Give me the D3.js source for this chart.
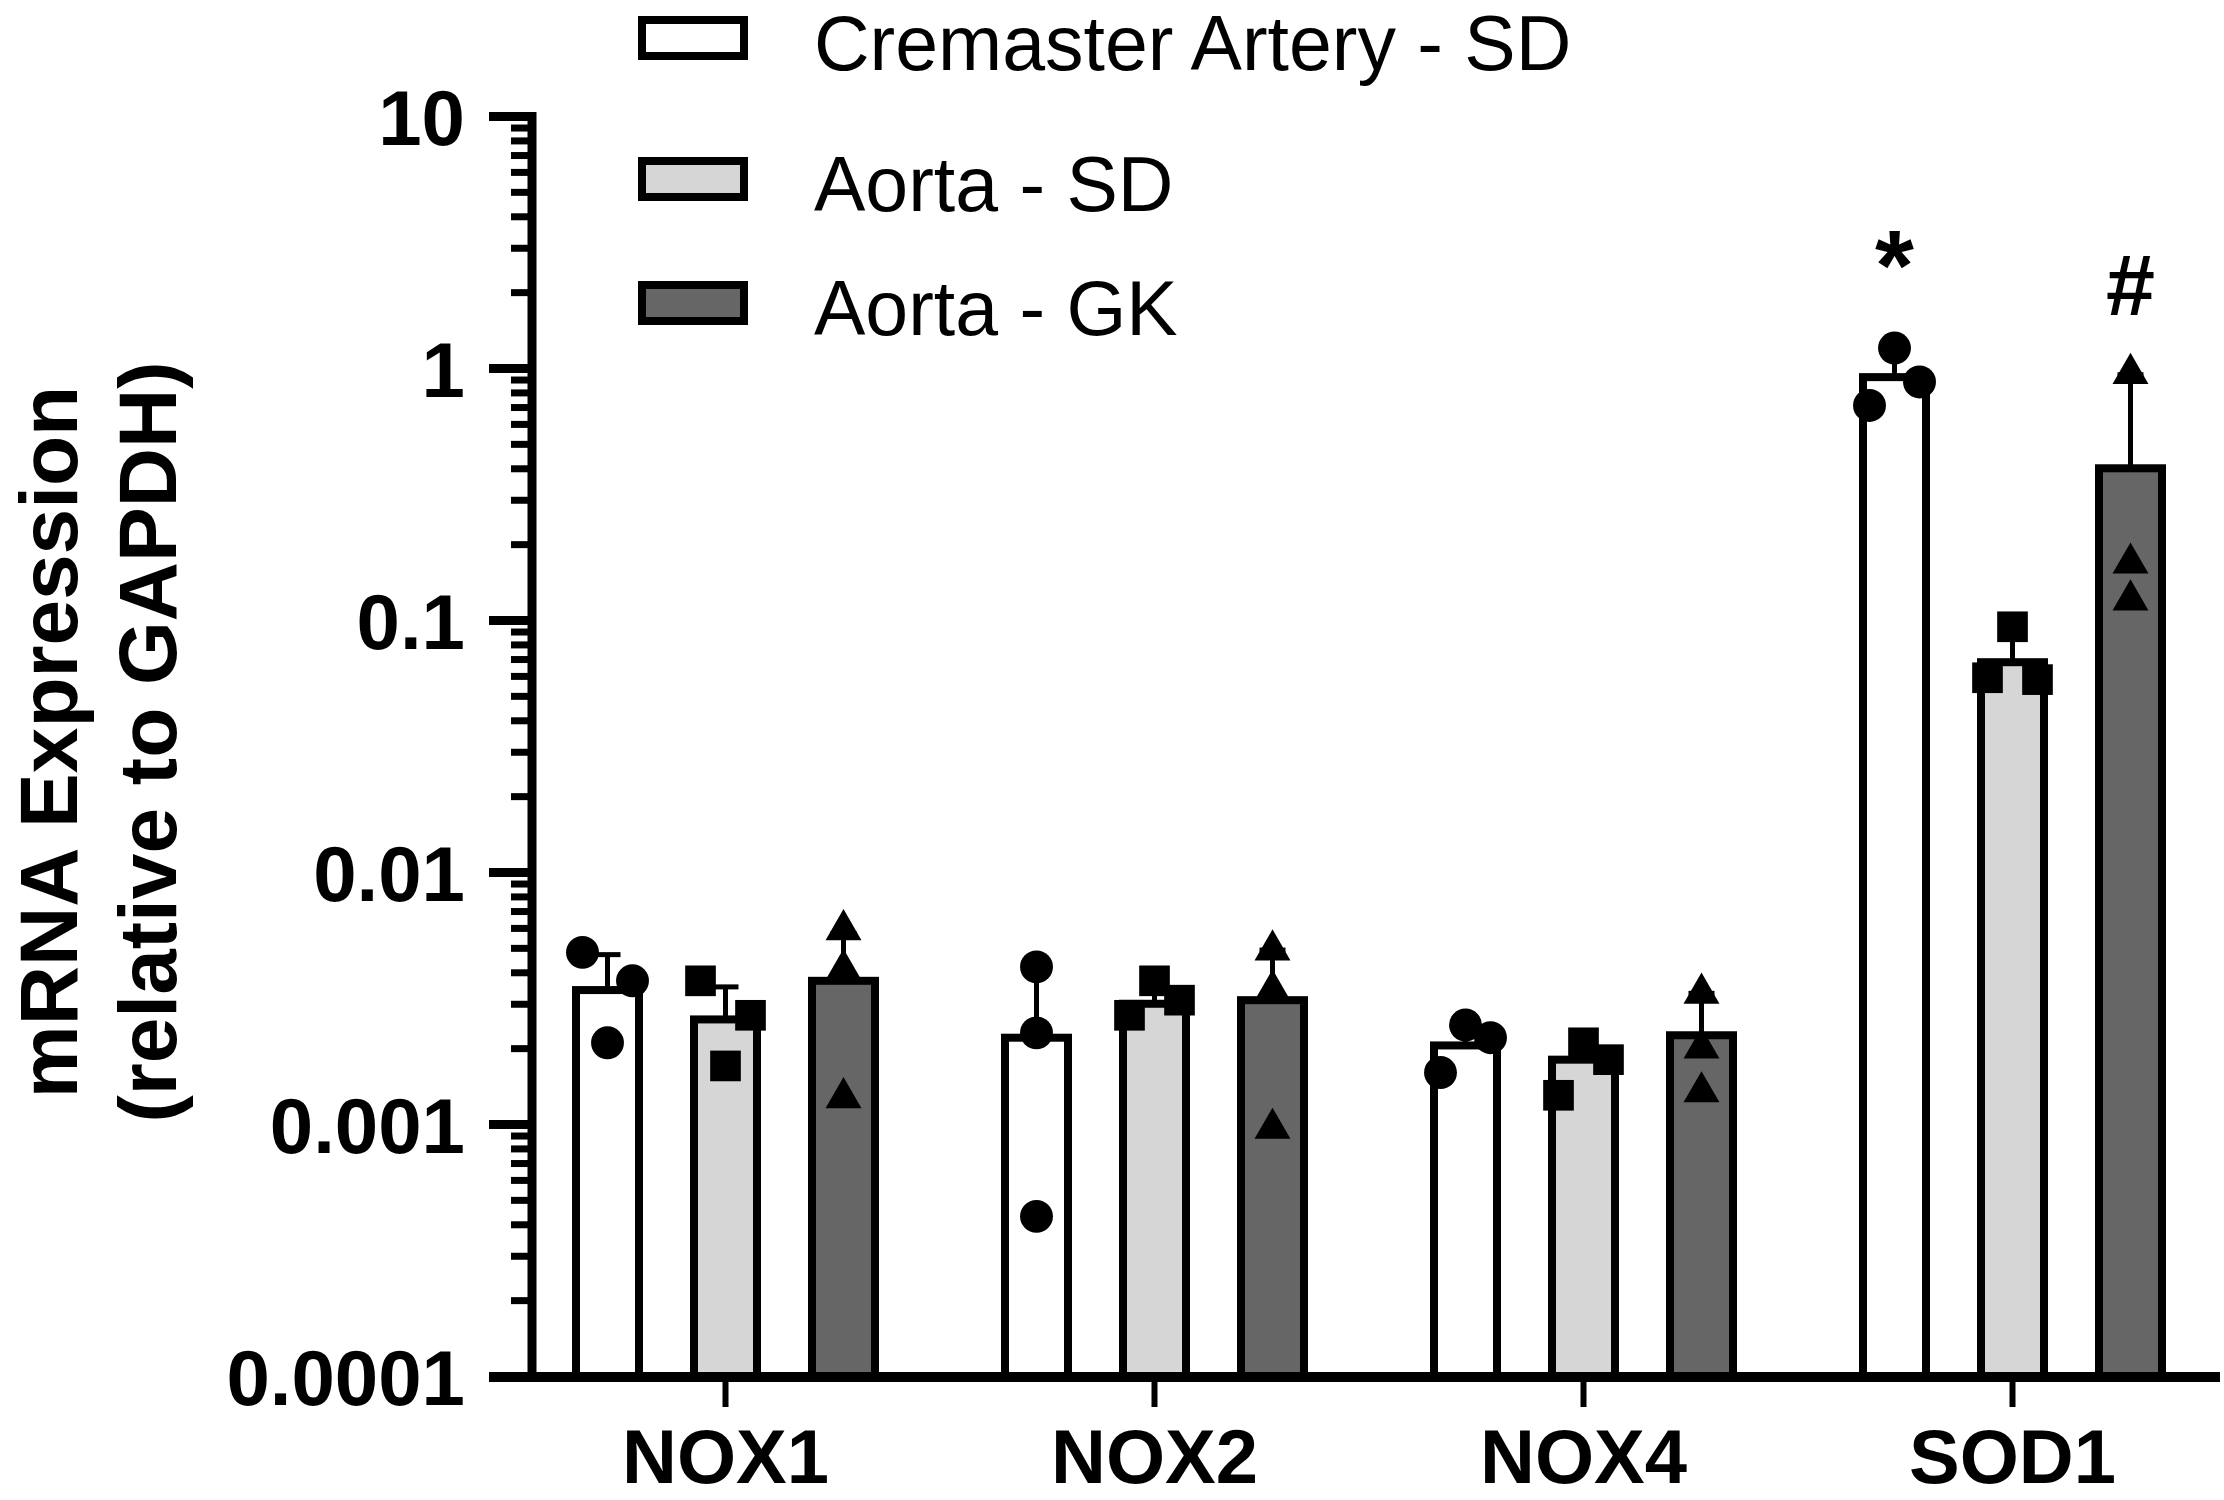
<!DOCTYPE html>
<html>
<head>
<meta charset="utf-8">
<script src="https://cdn.jsdelivr.net/npm/d3@7"></script>
<style>
  body { margin: 0; background: #fff; }
  svg { display: block; }
  text { font-family: "Liberation Sans", Arial, sans-serif; fill: #000; }
</style>
</head>
<body>
<svg id="chart" width="2224" height="1500"></svg>
<script>

// categories and groups
var genes = ['NOX1', 'NOX2', 'NOX4', 'SOD1'];
var groups = ['Cremaster Artery - SD', 'Aorta - SD', 'Aorta - GK'];

// bar heights (mean)
var meanCremSD  = [0.0034, 0.0022, 0.00205, 0.92];
var meanAortaSD = [0.0026, 0.0030, 0.0018, 0.068];
var meanAortaGK = [0.0037, 0.0031, 0.00225, 0.40];

// top of the (upper only) SD error bars
var errTopCremSD  = [0.0047, 0.0041, 0.0024, 1.18];
var errTopAortaSD = [0.0035, 0.0036, 0.0021, 0.085];
var errTopAortaGK = [0.0057, 0.0049, 0.0033, 0.94];

// individual animals (n = 3 per bar)
var ptsCremSD  = [[0.0048, 0.0037, 0.0021], [0.0042, 0.0023, 0.00043], [0.00247, 0.0022, 0.0016], [1.2, 0.88, 0.71]];
var ptsAortaSD = [[0.0037, 0.0027, 0.0017], [0.0037, 0.0031, 0.0027], [0.0021, 0.0018, 0.0013], [0.094, 0.059, 0.058]];
var ptsAortaGK = [[0.0059, 0.0041, 0.00127], [0.0049, 0.0034, 0.00096], [0.0033, 0.0020, 0.00134], [0.95, 0.168, 0.12]];

// axis ticks
var yTicks = [0.0001, 0.001, 0.01, 0.1, 1, 10];
var yTickLabels = ['0.0001', '0.001', '0.01', '0.1', '1', '10'];

// significance marks
var sigMarks = [
  { gene: 'SOD1', group: 0, text: '*' },
  { gene: 'SOD1', group: 2, text: '#' }
];

var means = [meanCremSD, meanAortaSD, meanAortaGK];
var errTops = [errTopCremSD, errTopAortaSD, errTopAortaGK];
var points = [ptsCremSD, ptsAortaSD, ptsAortaGK];
var fills = ['#ffffff', '#d6d6d6', '#666666'];
var shapes = [d3.symbolCircle, d3.symbolSquare, d3.symbolTriangle];
var shapeSizes = [850, 940, 560];

var svg = d3.select('#chart');

var y = d3.scaleLog().domain([0.0001, 10]).range([1376, 116]);
var x0 = d3.scaleBand().domain(genes).range([511, 2227]).padding(0);
var x1 = d3.scalePoint().domain(d3.range(groups.length)).range([-118, 118]);
var barW = 63;

function barCenter(gi, si) {
  return x0(genes[gi]) + x0.bandwidth() / 2 + x1(si);
}

// bars
var barData = [];
groups.forEach(function (g, si) {
  genes.forEach(function (gene, gi) {
    barData.push({ si: si, gi: gi, mean: means[si][gi], top: errTops[si][gi], pts: points[si][gi] });
  });
});

svg.append('g').selectAll('rect')
  .data(barData)
  .enter()
  .append('rect')
  .attr('x', function (d) { return barCenter(d.gi, d.si) - barW / 2; })
  .attr('y', function (d) { return y(d.mean); })
  .attr('width', barW)
  .attr('height', function (d) { return y(0.0001) - y(d.mean); })
  .attr('fill', function (d) { return fills[d.si]; })
  .attr('stroke', '#000')
  .attr('stroke-width', 8);

// error bars (upper SD only)
var errG = svg.append('g').attr('stroke', '#000').attr('stroke-width', 5);
errG.selectAll('line.v')
  .data(barData)
  .enter()
  .append('line')
  .attr('class', 'v')
  .attr('x1', function (d) { return barCenter(d.gi, d.si); })
  .attr('x2', function (d) { return barCenter(d.gi, d.si); })
  .attr('y1', function (d) { return y(d.mean); })
  .attr('y2', function (d) { return y(d.top); });
errG.selectAll('line.cap')
  .data(barData)
  .enter()
  .append('line')
  .attr('class', 'cap')
  .attr('x1', function (d) { return barCenter(d.gi, d.si) - 13; })
  .attr('x2', function (d) { return barCenter(d.gi, d.si) + 13; })
  .attr('y1', function (d) { return y(d.top); })
  .attr('y2', function (d) { return y(d.top); });

// points that sit close together vertically get pushed apart sideways
function spread(vals, cx) {
  var ys = vals.map(function (v) { return y(v); }).sort(function (a, b) { return a - b; });
  var clusters = [];
  ys.forEach(function (py, i) {
    if (i > 0 && py - ys[i - 1] < 36) clusters[clusters.length - 1].push(py);
    else clusters.push([py]);
  });
  var out = [];
  clusters.forEach(function (c) {
    var offs = c.length === 1 ? [0] : c.length === 2 ? [-25, 25] : [0, 25, -25];
    c.forEach(function (py, k) { out.push({ x: cx + offs[k], y: py }); });
  });
  return out;
}

var dotData = [];
barData.forEach(function (d) {
  spread(d.pts, barCenter(d.gi, d.si)).forEach(function (p) {
    dotData.push({ si: d.si, x: p.x, y: p.y });
  });
});

svg.append('g').selectAll('path')
  .data(dotData)
  .enter()
  .append('path')
  .attr('d', function (d) { return d3.symbol().type(shapes[d.si]).size(shapeSizes[d.si])(); })
  .attr('transform', function (d) { return 'translate(' + d.x + ',' + d.y + ')'; })
  .attr('fill', '#000');

// y axis: major and minor ticks
var minorTicks = y.ticks().filter(function (t) { return yTicks.indexOf(t) < 0; });

var yMinor = svg.append('g')
  .attr('transform', 'translate(532,0)')
  .call(d3.axisLeft(y).tickValues(minorTicks).tickSize(21).tickFormat(''));
yMinor.selectAll('line').attr('stroke-width', 7);
yMinor.select('.domain').remove();

var yMajor = svg.append('g')
  .attr('transform', 'translate(532,0)')
  .call(d3.axisLeft(y).tickValues(yTicks).tickSize(43).tickPadding(24)
    .tickFormat(function (d, i) { return yTickLabels[i]; }));
yMajor.select('.domain').remove();
yMajor.selectAll('line').attr('stroke-width', 9);
yMajor.selectAll('text')
  .attr('font-size', 78)
  .attr('font-weight', 'bold')
  .attr('dy', '0.36em');

svg.append('line')
  .attr('x1', 532).attr('x2', 532)
  .attr('y1', y(10) - 4).attr('y2', y(0.0001))
  .attr('stroke', '#000').attr('stroke-width', 9);

// x axis
var xAxis = svg.append('g')
  .attr('transform', 'translate(0,1377)')
  .call(d3.axisBottom(x0).tickSize(30).tickSizeOuter(0).tickPadding(22));
xAxis.select('.domain').remove();
xAxis.selectAll('line').attr('stroke-width', 6);
xAxis.selectAll('text')
  .attr('font-size', 76)
  .attr('font-weight', 'bold');

svg.append('line')
  .attr('x1', 489).attr('x2', 2220)
  .attr('y1', 1377).attr('y2', 1377)
  .attr('stroke', '#000').attr('stroke-width', 10);

// y axis title
var yTitle = svg.append('g').attr('font-weight', 'bold').attr('font-size', 82).attr('text-anchor', 'middle');
yTitle.append('text')
  .attr('transform', 'translate(77,742) rotate(-90)')
  .text('mRNA Expression');
yTitle.append('text')
  .attr('transform', 'translate(176,742) rotate(-90)')
  .text('(relative to GAPDH)');

// significance marks
svg.append('g').selectAll('text')
  .data(sigMarks)
  .enter()
  .append('text')
  .attr('x', function (d) { return barCenter(genes.indexOf(d.gene), d.group); })
  .attr('y', function (d) { return y(errTops[d.group][genes.indexOf(d.gene)]) - (d.text === '*' ? 50 : 60); })
  .attr('text-anchor', 'middle')
  .attr('font-size', function (d) { return d.text === '*' ? 100 : 88; })
  .attr('font-weight', 'bold')
  .text(function (d) { return d.text; });

// legend
var legendY = [38, 179, 303];
var legend = svg.append('g').selectAll('g')
  .data(groups)
  .enter()
  .append('g')
  .attr('transform', function (d, i) { return 'translate(0,' + legendY[i] + ')'; });
legend.append('rect')
  .attr('x', 642).attr('y', -18)
  .attr('width', 102).attr('height', 36)
  .attr('fill', function (d, i) { return fills[i]; })
  .attr('stroke', '#000').attr('stroke-width', 8);
legend.append('text')
  .attr('x', 814)
  .attr('dy', '0.42em')
  .attr('font-size', 77)
  .text(function (d) { return d; });
</script>
</body>
</html>
